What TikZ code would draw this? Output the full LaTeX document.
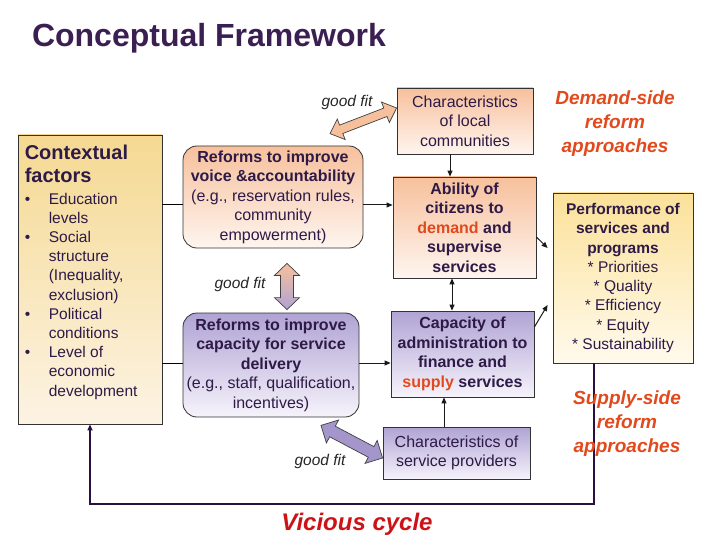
\documentclass[tikz,border=0pt]{standalone}
\usepackage{fontspec}
\setmainfont{Liberation Sans}
\usepackage{xcolor}
\definecolor{plum}{HTML}{3B1F52}
\definecolor{ink}{HTML}{2E1A47}
\definecolor{rust}{HTML}{E2491C}
\definecolor{crimson}{HTML}{CC1418}
\definecolor{peach}{HTML}{F7C09C}
\definecolor{peachpale}{HTML}{FEF5EF}
\definecolor{lilac}{HTML}{B0A3D4}
\definecolor{lilacfat}{HTML}{A496CB}
\definecolor{lilacpale}{HTML}{F6F3FB}
\definecolor{gold}{HTML}{F5D992}
\definecolor{cream}{HTML}{FCF3E3}
\definecolor{lemon}{HTML}{FBE199}
\definecolor{lemonpale}{HTML}{FFFAEC}
\definecolor{fbpurple}{HTML}{2A1040}
\usetikzlibrary{positioning,arrows.meta,calc}

\newcommand{\bul}{\makebox[24pt][l]{\textbullet}}
\newcommand{\ind}{\hspace*{24pt}}
\newcommand{\fatlink}[6]{%
  \coordinate (fl1) at ($(#2)!#4!(#3)$);
  \coordinate (fl2) at ($(#3)!#4!(#2)$);
  \draw[fat,#1] (#2) -- ($(fl1)!#5!90:(#3)$) -- ($(fl1)!#6!90:(#3)$) -- ($(fl2)!#6!-90:(#2)$) -- ($(fl2)!#5!-90:(#2)$) -- (#3)
    -- ($(fl2)!#5!90:(#2)$) -- ($(fl2)!#6!90:(#2)$) -- ($(fl1)!#6!-90:(#3)$) -- ($(fl1)!#5!-90:(#3)$) -- cycle;}

\begin{document}
\begin{tikzpicture}[x=1pt, y=-1pt,
  box/.style={draw=black!80, line width=0.8pt, inner sep=0pt, align=center, text=ink, font=\fontsize{16}{19.5}\selectfont},
  peachbox/.style={box, top color=peach, bottom color=peachpale},
  lilacbox/.style={box, top color=lilac, bottom color=lilacpale},
  reform/.style={rounded corners=14pt},
  conn/.style={line width=1pt, draw=black!90, -{Triangle[length=6pt,width=5pt]}},
  fb/.style={line width=1.6pt, draw=fbpurple, -{Triangle[length=6pt,width=5pt]}},
  fat/.style={draw=black!75, line width=0.7pt, line join=miter},
  fitlabel/.style={font=\fontsize{15.5}{18}\selectfont\itshape, text=black!85, anchor=base},
  side/.style={font=\fontsize{19}{24}\selectfont\bfseries\itshape, text=rust, align=center}]
  \fill[white] (0,0) rectangle (720,540);
  \useasboundingbox (0,0) rectangle (720,540);

  \node[anchor=base west, font=\fontsize{32}{36}\selectfont\bfseries, text=plum] (title) at (28.5,47) {Conceptual Framework};

  \node[box, top color=gold, bottom color=cream, minimum width=144pt, minimum height=289pt] (ctx) at (90,279.5) {};
  \node[anchor=north west, inner sep=0pt, align=left, text=ink, font=\fontsize{15.5}{19.2}\selectfont] (ctxtext) at ($(ctx.north west)+(7pt,-10pt)$)
    {{\fontsize{20}{24}\selectfont\bfseries Contextual}\\[4.5pt]
     {\fontsize{20}{24}\selectfont\bfseries factors}\\[2pt]
     \bul Education\\ \ind levels\\
     \bul Social\\ \ind structure\\ \ind (Inequality,\\ \ind exclusion)\\
     \bul Political\\ \ind conditions\\
     \bul Level of\\ \ind economic\\ \ind development};

  \node[peachbox, reform, minimum width=180pt, minimum height=102pt] (rv) at (273,197)
    {\textbf{Reforms to improve}\\ \textbf{voice \&accountability}\\ (e.g., reservation rules,\\ community\\ empowerment)};
  \node[lilacbox, reform, minimum width=176pt, minimum height=104pt] (rc) at (271,365)
    {\textbf{Reforms to improve}\\ \textbf{capacity for service}\\ \textbf{delivery}\\ (e.g., staff, qualification,\\ incentives)};

  \node[peachbox, minimum width=136pt, minimum height=66pt] (loc) at (465,121)
    {Characteristics\\ of local\\ communities};
  \node[peachbox, minimum width=143pt, minimum height=101pt, font=\fontsize{16}{19.5}\selectfont\bfseries] (abil) at (464.5,227.5)
    {Ability of\\ citizens to\\ \textcolor{rust}{demand} and\\ supervise\\ services};
  \node[lilacbox, minimum width=143pt, minimum height=86pt, font=\fontsize{16}{19.5}\selectfont\bfseries] (capa) at (462.5,354)
    {Capacity of\\ administration to\\ finance and\\ \textcolor{rust}{supply} services};
  \node[lilacbox, minimum width=147pt, minimum height=52pt] (prov) at (456.5,453)
    {Characteristics of\\ service providers};

  \node[box, top color=lemon, bottom color=lemonpale, minimum width=140pt, minimum height=170pt, font=\fontsize{15.5}{19.3}\selectfont] (perf) at (623,278)
    {\textbf{Performance of}\\ \textbf{services and}\\ \textbf{programs}\\ * Priorities\\ * Quality\\ * Efficiency\\ * Equity\\ * Sustainability};

  \coordinate (yv) at (0,205);
  \coordinate (yc) at (0,363);
  \coordinate (fbline) at (0,504);
  \coordinate (la) at ($(loc.south)+(-15pt,0)$);
  \coordinate (aa) at ($(abil.south)+(-12.5pt,0)$);
  \coordinate (pa) at ($(prov.north)+(-12.5pt,0)$);
  \coordinate (pf) at ($(perf.south)+(-29pt,0)$);

  \draw[line width=1pt] (ctx.east |- yv) -- (rv.west |- yv);
  \draw[conn] (rv.east |- yv) -- (abil.west |- yv);
  \draw[line width=1pt] (ctx.east |- yc) -- (rc.west |- yc);
  \draw[conn] (rc.east |- yc) -- (capa.west |- yc);
  \draw[conn] (la) -- (la |- abil.north);
  \draw[conn, {Triangle[length=6pt,width=5pt]}-{Triangle[length=6pt,width=5pt]}] (aa) -- (aa |- capa.north);
  \draw[conn] (pa) -- (pa |- capa.south);
  \draw[conn] ($(abil.east)+(0,-9.5pt)$) -- ($(perf.west)+(-5pt,30pt)$);
  \draw[conn] ($(capa.east)+(0,27pt)$) -- ($(perf.west)+(-5pt,-27pt)$);
  \draw[fb] (pf) -- (pf |- fbline) -| (ctx.south);

  \coordinate (f1a) at ($(rv.north)+(57pt,12pt)$);
  \coordinate (f1b) at ($(loc.west)+(0pt,13pt)$);
  \coordinate (f2a) at ($(rv.south)+(14pt,-15pt)$);
  \coordinate (f2b) at ($(rc.north)+(16pt,3pt)$);
  \coordinate (f3a) at ($(rc.south)+(50pt,-8pt)$);
  \coordinate (f3b) at ($(prov.west)+(0pt,-5pt)$);
  \fatlink{fill=peach}{f1a}{f1b}{12pt}{11pt}{4.5pt}
  \fatlink{top color=peach, bottom color=lilac}{f2a}{f2b}{12pt}{12.5pt}{6.5pt}
  \fatlink{fill=lilacfat}{f3a}{f3b}{13pt}{13pt}{6pt}

  \node[fitlabel] (fit1) at (347,107) {good fit};
  \node[fitlabel] (fit2) at (240,288) {good fit};
  \node[fitlabel] (fit3) at (320,465) {good fit};

  \node[side] (demand) at (615,124) {Demand-side\\ reform\\ approaches};
  \node[side] (supply) at (627,424) {Supply-side\\ reform\\ approaches};
  \node[anchor=base, font=\fontsize{24}{28}\selectfont\bfseries\itshape, text=crimson] (vicious) at (357,530) {Vicious cycle};
\end{tikzpicture}
\end{document}
